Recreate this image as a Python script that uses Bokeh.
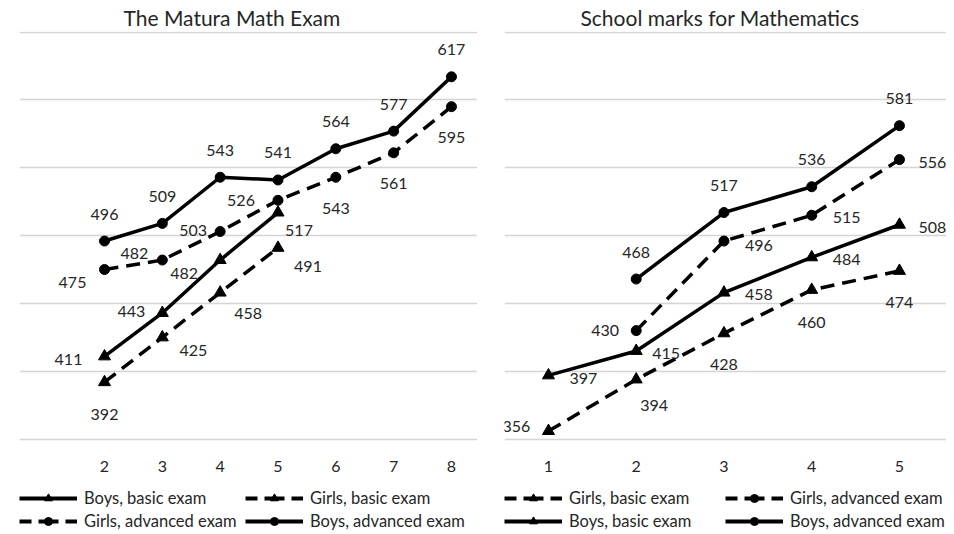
from bokeh.plotting import figure
from bokeh.models import ColumnDataSource, FixedTicker, Legend, LegendItem, Range1d
from bokeh.layouts import row
from bokeh.core.properties import value
from bokeh.embed import file_html
from bokeh.resources import INLINE

FONT = "Lato"
NAN = float("nan")

# ---------------- data: The Matura Math Exam ----------------
matura_title = "The Matura Math Exam"
matura_ticks = [2, 3, 4, 5, 6, 7, 8]
matura_basic_x = [2, 3, 4, 5]
matura_adv_x = [2, 3, 4, 5, 6, 7, 8]
matura_boys_basic = [411, 443, 482, 517]
matura_girls_basic = [392, 425, 458, 491]
matura_girls_adv = [475, 482, 503, 526, 543, 561, 595]
matura_boys_adv = [496, 509, 543, 541, 564, 577, 617]

# ---------------- data: School marks for Mathematics ----------------
marks_title = "School marks for Mathematics"
marks_ticks = [1, 2, 3, 4, 5]
marks_basic_x = [1, 2, 3, 4, 5]
marks_adv_x = [2, 3, 4, 5]
marks_girls_basic = [356, 394, 428, 460, 474]
marks_girls_adv = [430, 496, 515, 556]
marks_boys_basic = [397, 415, 458, 484, 508]
marks_boys_adv = [468, 517, 536, 581]

grid_values = [350, 400, 450, 500, 550, 600, 650]

# ---------------- label placement (pixel offsets, style only) ----------------
off_m_bb = [(-36, 3), (-31, -1), (-36, 13), (21, 18)]
off_m_gb = [(0, 32), (31, 13), (28, 21), (30, 19)]
off_m_ga = [(-32, 13), (-28, -7), (-27, -1), (-37, 0), (0, 31), (0, 31), (0, 31)]
off_m_ba = [(0, -27)] * 7

off_s_gb = [(-32, -5), (18, 26), (0, 31), (0, 33), (0, 32)]
off_s_ga = [(-31, 0), (35, 4), (35, 2), (33, 3)]
off_s_bb = [(35, 3), (30, 3), (35, 2), (35, 2), (33, 3)]
off_s_ba = [(0, -27)] * 4

SOLID = "solid"
DASH = "14 8"
LEGEND_DASH = "12 7 20 7"
TXT = "#262626"
TRI, CIR = 12, 10


def make_fig(title, x_start, x_end, ticks, frame_w, border_left, title_offset):
    p = figure(frame_width=frame_w, frame_height=502, x_range=Range1d(x_start, x_end),
               y_range=Range1d(280.5, 650.4), output_backend="svg", toolbar_location=None,
               min_border_left=border_left, min_border_right=0,
               min_border_top=30, min_border_bottom=0)
    p.outline_line_color = None
    p.title.text = title
    p.title.align = "left"
    p.title.offset = title_offset
    p.title.text_font = FONT
    p.title.text_font_size = "21px"
    p.title.text_font_style = "normal"
    p.title.text_color = TXT
    p.title.standoff = 4
    p.yaxis.visible = False
    p.xgrid.visible = False
    p.ygrid.ticker = FixedTicker(ticks=grid_values)
    p.ygrid.grid_line_color = "#d4d4d4"
    p.ygrid.grid_line_width = 1.4
    p.xaxis.ticker = FixedTicker(ticks=ticks)
    p.xaxis.fixed_location = 350
    p.xaxis.axis_line_color = None
    p.xaxis.major_tick_line_color = None
    p.xaxis.minor_tick_line_color = None
    p.xaxis.major_label_standoff = 16
    p.xaxis.major_label_text_font = FONT
    p.xaxis.major_label_text_font_size = "16px"
    p.xaxis.major_label_text_color = TXT
    return p


def series(p, xs, ys, dash, marker, size, offsets):
    src = ColumnDataSource(dict(x=xs, y=ys, lab=[str(v) for v in ys],
                                dx=[o[0] for o in offsets], dy=[o[1] for o in offsets]))
    p.line("x", "y", source=src, line_width=3.5, line_color="black",
           line_dash=dash, line_join="round")
    p.scatter("x", "y", source=src, marker=marker, size=size, color="black")
    p.text("x", "y", text="lab", source=src, x_offset="dx", y_offset="dy",
           text_align="center", text_baseline="middle", text_font=value(FONT),
           text_font_size="16px", text_color=TXT)
    # legend sample renderers (a single empty point: only the legend glyph is seen)
    ldash = LEGEND_DASH if dash != SOLID else SOLID
    ln = p.line(x=[NAN], y=[NAN], line_width=4, line_color="black", line_dash=ldash)
    mk = p.scatter(x=[NAN], y=[NAN], marker=marker, size=size - 2, color="black")
    return [ln, mk]


def legend_row(p, items, vy, label_width):
    lg = Legend(items=[LegendItem(label=t, renderers=r) for t, r in items],
                orientation="horizontal", location=(0, vy),
                glyph_width=58, glyph_height=20, label_height=20, label_standoff=7,
                label_width=label_width, spacing=3, padding=0, margin=0,
                border_line_color=None, background_fill_alpha=0,
                label_text_font=FONT, label_text_font_size="16.5px", label_text_color=TXT)
    p.add_layout(lg)


# ---------------- left chart ----------------
p1 = make_fig(matura_title, 0.53, 8.45, matura_ticks, 458, 19, 104)
r_bb = series(p1, matura_basic_x, matura_boys_basic, SOLID, "triangle", TRI, off_m_bb)
r_gb = series(p1, matura_basic_x, matura_girls_basic, DASH, "triangle", TRI, off_m_gb)
r_ga = series(p1, matura_adv_x, matura_girls_adv, DASH, "circle", CIR, off_m_ga)
r_ba = series(p1, matura_adv_x, matura_boys_adv, SOLID, "circle", CIR, off_m_ba)
legend_row(p1, [("Boys, basic exam", r_bb), ("Girls, basic exam", r_gb)], 25, 158)
legend_row(p1, [("Girls, advanced exam", r_ga), ("Boys, advanced exam", r_ba)], 2, 158)

# ---------------- right chart ----------------
p2 = make_fig(marks_title, 0.499, 5.536, marks_ticks, 442, 27, 76)
s_gb = series(p2, marks_basic_x, marks_girls_basic, DASH, "triangle", TRI, off_s_gb)
s_ga = series(p2, marks_adv_x, marks_girls_adv, DASH, "circle", CIR, off_s_ga)
s_bb = series(p2, marks_basic_x, marks_boys_basic, SOLID, "triangle", TRI, off_s_bb)
s_ba = series(p2, marks_adv_x, marks_boys_adv, SOLID, "circle", CIR, off_s_ba)
legend_row(p2, [("Girls, basic exam", s_gb), ("Girls, advanced exam", s_ga)], 25, 153)
legend_row(p2, [("Boys, basic exam", s_bb), ("Boys, advanced exam", s_ba)], 2, 153)

layout = row(p1, p2, spacing=0)
open("out.html", "w").write(file_html(layout, INLINE))
